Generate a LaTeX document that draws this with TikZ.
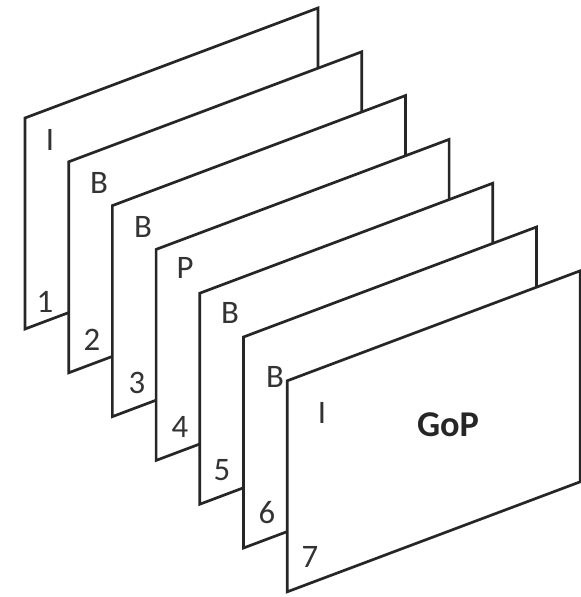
\documentclass[tikz,border=0pt]{standalone}
\usepackage{fontspec}
\setmainfont{Carlito}
\usetikzlibrary{positioning}

\begin{document}
\begin{tikzpicture}[
  x=0.03cm, y=-0.03cm,
  frame/.style={draw=black!85, line width=2.3pt, fill=white, line join=miter},
  tag/.style={inner sep=0pt, font=\fontsize{28pt}{32pt}\selectfont, text=black!80},
  gop/.style={inner sep=0pt, font=\fontsize{31pt}{35pt}\selectfont\bfseries, text=black!85}
]
\useasboundingbox (0,0) rectangle (580,597);

% Frames, back to front
\foreach \i in {0,...,6} {
  \coordinate (f\i) at ({25+43.7*\i},{118+43.8*\i});
  \draw[frame] (f\i) -- ++(293,-110) -- ++(0,211) -- ++(-293,110) -- cycle;
}

% Frame types
\node[tag] (t1) at (50,140) {I};
\node[tag] (t2) at (99,183) {B};
\node[tag] (t3) at (143,227) {B};
\node[tag] (t4) at (185,268) {P};
\node[tag] (t5) at (230,313) {B};
\node[tag] (t6) at (275,377) {B};
\node[tag] (t7) at (322,413) {I};

% Frame numbers
\node[tag] (n1) at (45,302) {1};
\node[tag] (n2) at (92,340) {2};
\node[tag] (n3) at (137,383) {3};
\node[tag] (n4) at (180,427) {4};
\node[tag] (n5) at (222,470) {5};
\node[tag] (n6) at (267,513) {6};
\node[tag] (n7) at (310,557) {7};

\node[gop] (gop) at (448,425) {GoP};
\end{tikzpicture}
\end{document}
